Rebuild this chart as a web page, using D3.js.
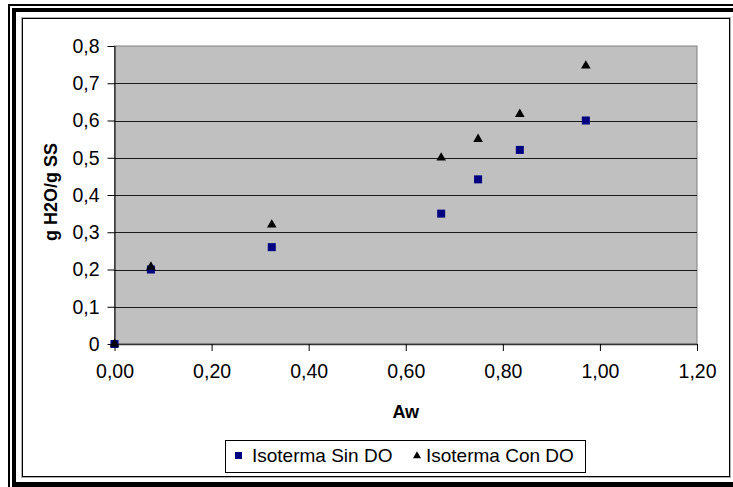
<!DOCTYPE html>
<html>
<head>
<meta charset="utf-8">
<script src="https://cdn.jsdelivr.net/npm/d3@7"></script>
<style>
  html, body { margin: 0; padding: 0; background: #fff; }
  svg { display: block; font-family: "Liberation Sans", Arial, sans-serif; }
</style>
</head>
<body>
<svg id="chart" width="733" height="487"></svg>
<script>
// Water activity (Aw) readings and moisture contents for both isotherms
const aw      = [0, 0.075, 0.324, 0.673, 0.749, 0.835, 0.971];
const sinDO   = [0, 0.2, 0.26, 0.35, 0.442, 0.521, 0.6];
const conDO   = [0, 0.207, 0.32, 0.5, 0.55, 0.617, 0.747];
const xTicks  = [0, 0.2, 0.4, 0.6, 0.8, 1.0, 1.2];
const yTicks  = [0, 0.1, 0.2, 0.3, 0.4, 0.5, 0.6, 0.7, 0.8];
const seriesNames = ["Isoterma Sin DO", "Isoterma Con DO"];

const svg = d3.select("#chart");
const W = 733, H = 487;

// Decorative double frame
svg.append("rect").attr("x", 8).attr("y", 4).attr("width", W - 8).attr("height", 2).attr("fill", "#000");
svg.append("rect").attr("x", 8).attr("y", 4).attr("width", 2).attr("height", H - 4).attr("fill", "#000");
svg.append("rect").attr("x", 12).attr("y", 8).attr("width", W - 12).attr("height", 4).attr("fill", "#000");
svg.append("rect").attr("x", 12).attr("y", 8).attr("width", 4).attr("height", H - 8).attr("fill", "#000");
svg.append("rect").attr("x", 12).attr("y", 482).attr("width", W - 12).attr("height", 5).attr("fill", "#000");

// Inner chart border with light shadow
svg.append("rect").attr("x", 21.5).attr("y", 17.5).attr("width", 709).attr("height", 460)
  .attr("fill", "none").attr("stroke", "#b0b0b0").attr("stroke-width", 1);
svg.append("rect").attr("x", 22.5).attr("y", 18.5).attr("width", 707).attr("height", 458)
  .attr("fill", "#fff").attr("stroke", "#000").attr("stroke-width", 1);

// Plot area
const pl = 114.5, pr = 697, pt = 46, pb = 344;
const x = d3.scaleLinear().domain([0, 1.2]).range([pl, pr]);
const y = d3.scaleLinear().domain([0, 0.8]).range([pb, pt]);

svg.append("rect").attr("x", pl).attr("y", pt).attr("width", pr - pl).attr("height", pb - pt)
  .attr("fill", "#c0c0c0").attr("stroke", "#808080").attr("stroke-width", 1);

// Horizontal gridlines
svg.append("g").selectAll("line").data(yTicks.filter(v => v > 0 && v < 0.8)).join("line")
  .attr("x1", pl).attr("x2", pr)
  .attr("y1", d => Math.round(y(d)) + 0.5).attr("y2", d => Math.round(y(d)) + 0.5)
  .attr("stroke", "#1a1a1a").attr("stroke-width", 1);

const fmt = (d, n) => d.toFixed(n).replace(".", ",");
const tickFont = "19.5px";

// Y axis
const yAxis = d3.axisLeft(y).tickValues(yTicks).tickSize(7).tickPadding(8)
  .tickFormat(d => d === 0 ? "0" : fmt(d, 1));
const gy = svg.append("g").attr("transform", `translate(${pl},0)`).call(yAxis);
gy.select(".domain").attr("stroke", "#000").attr("d", `M0.5,${pt}V${pb}`);
gy.selectAll(".tick line").attr("stroke", "#000");
gy.selectAll(".tick text").attr("fill", "#000").style("font-size", tickFont)
  .style("font-family", "'Liberation Sans', Arial, sans-serif");

// X axis
const xAxis = d3.axisBottom(x).tickValues(xTicks).tickSize(7).tickPadding(13)
  .tickFormat(d => fmt(d, 2));
const gx = svg.append("g").attr("transform", `translate(0,${pb})`).call(xAxis);
gx.select(".domain").attr("stroke", "#333").attr("stroke-width", 1.5).attr("d", `M${pl},0.5H${pr}`);
gx.selectAll(".tick line").attr("stroke", "#000");
gx.selectAll(".tick text").attr("fill", "#000")
  .style("font-size", tickFont)
  .style("font-family", "'Liberation Sans', Arial, sans-serif");

// Axis titles
svg.append("text").attr("x", (pl + pr) / 2).attr("y", 418).attr("text-anchor", "middle")
  .style("font-size", "18px").style("font-weight", "bold").text("Aw");
svg.append("text").attr("transform", `translate(57,192) rotate(-90)`)
  .attr("text-anchor", "middle").style("font-size", "18px").style("font-weight", "bold")
  .text("g H2O/g SS");

// Markers
const sq = 8;
const tri = d3.symbol().type(d3.symbolTriangle).size(40);

svg.append("g").selectAll("rect").data(aw.map((a, i) => [a, sinDO[i]])).join("rect")
  .attr("x", d => x(d[0]) - sq / 2).attr("y", d => y(d[1]) - sq / 2)
  .attr("width", sq).attr("height", sq).attr("fill", "#000080");

svg.append("g").selectAll("path").data(aw.map((a, i) => [a, conDO[i]])).join("path")
  .attr("transform", d => `translate(${x(d[0])},${y(d[1])})`)
  .attr("d", tri).attr("fill", "#000");

// Legend
const lg = svg.append("g");
lg.append("rect").attr("x", 225.5).attr("y", 440.5).attr("width", 360).attr("height", 32)
  .attr("fill", "#fff").attr("stroke", "#000").attr("stroke-width", 1);
lg.append("rect").attr("x", 235).attr("y", 452).attr("width", 7).attr("height", 7).attr("fill", "#000080");
lg.append("text").attr("x", 252).attr("y", 462).style("font-size", "19px").text(seriesNames[0]);
lg.append("path").attr("transform", "translate(417,456)")
  .attr("d", d3.symbol().type(d3.symbolTriangle).size(28)).attr("fill", "#000");
lg.append("text").attr("x", 426).attr("y", 462).style("font-size", "19px").text(seriesNames[1]);
</script>
</body>
</html>
